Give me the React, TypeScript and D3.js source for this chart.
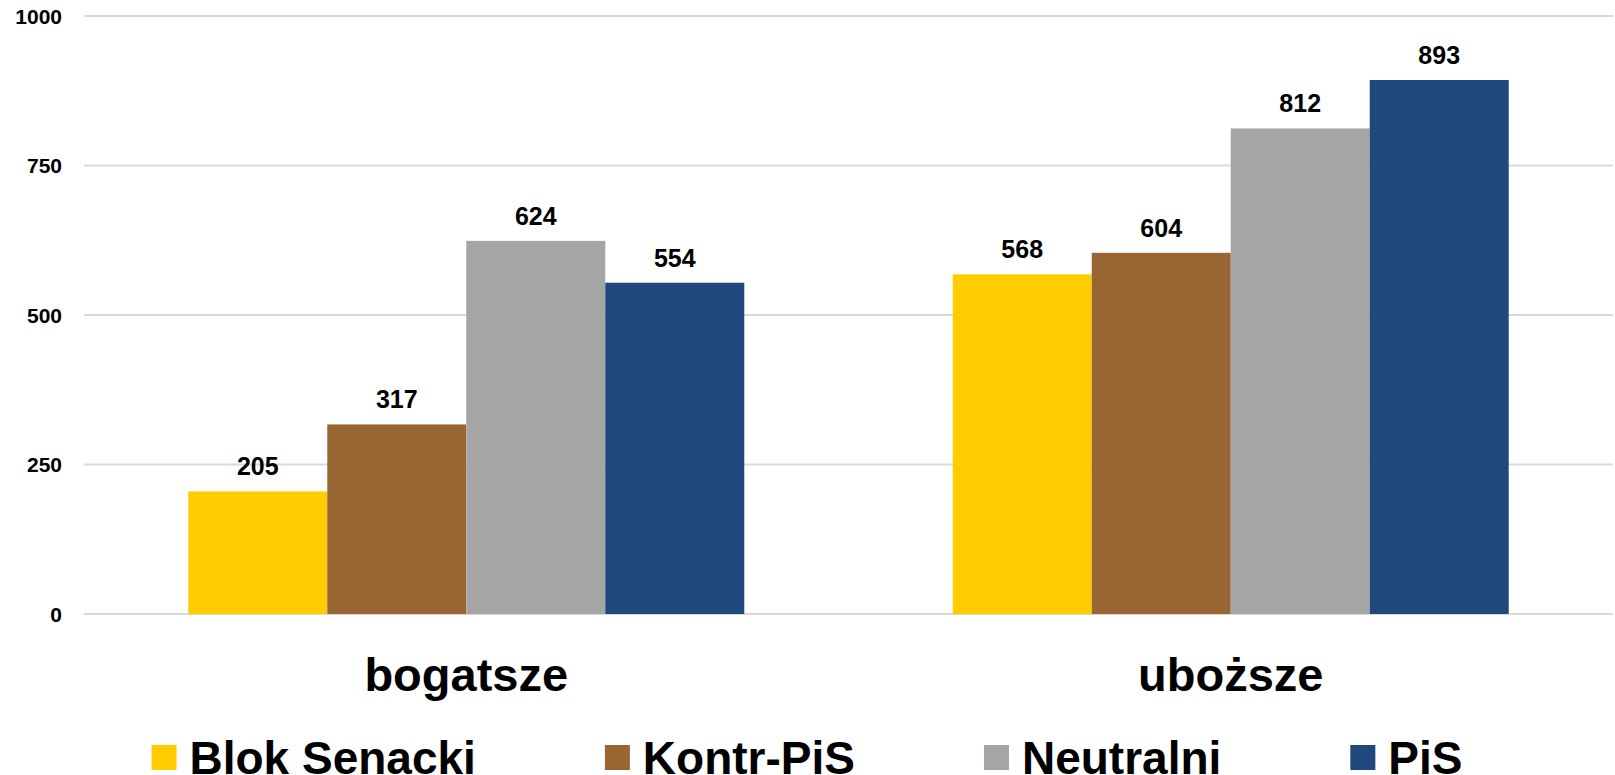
import React, { useMemo } from "react";
import * as d3 from "d3";

const categories = ["bogatsze", "uboższe"];
const seriesNames = ["Blok Senacki", "Kontr-PiS", "Neutralni", "PiS"];
const seriesColors = ["#FFCC00", "#996633", "#A5A5A5", "#1F497D"];
const blokSenacki = [205, 568];
const kontrPiS = [317, 604];
const neutralni = [624, 812];
const pis = [554, 893];
const seriesValues = [blokSenacki, kontrPiS, neutralni, pis];
const yTicks = [0, 250, 500, 750, 1000];

const W = 1615;
const H = 775;
const FONT = "'Liberation Sans', Arial, sans-serif";

function measure(text: string, size: number): number {
  const c = document.createElement("canvas");
  const ctx = c.getContext("2d");
  if (!ctx) return text.length * size * 0.55;
  ctx.font = `bold ${size}px 'Liberation Sans', Arial, sans-serif`;
  return ctx.measureText(text).width;
}

export default function App() {
  const left = 84;
  const right = 1613;
  const top = 16;
  const bottom = 614;

  const y = d3.scaleLinear().domain([0, 1000]).range([bottom, top]);
  const x0 = d3
    .scaleBand<string>()
    .domain(categories)
    .range([left, right])
    .paddingInner(0.2727)
    .paddingOuter(0.1364);
  const x1 = d3
    .scaleBand<string>()
    .domain(seriesNames)
    .range([0, x0.bandwidth()])
    .padding(0);

  const legendSize = 46;
  const legend = useMemo(() => {
    const sq = 25;
    const gapAfterSq = 13;
    const gapBetween = 129;
    const widths = seriesNames.map((s) => measure(s, legendSize));
    const total =
      widths.reduce((a, b) => a + b, 0) +
      seriesNames.length * (sq + gapAfterSq) +
      (seriesNames.length - 1) * gapBetween;
    let cx = W / 2 - total / 2 - 0.5;
    return seriesNames.map((s, i) => {
      const item = { name: s, color: seriesColors[i], sqX: cx, textX: cx + sq + gapAfterSq };
      cx += sq + gapAfterSq + widths[i] + gapBetween;
      return item;
    });
  }, []);

  return (
    <svg
      width={W}
      height={H}
      viewBox={`0 0 ${W} ${H}`}
      style={{ position: "absolute", left: 0, top: 0, display: "block", background: "#fff" }}
      fontFamily={FONT}
      fontWeight="bold"
    >
      <rect x={0} y={0} width={W} height={H} fill="#fff" />
      {yTicks.map((t) => (
        <g key={t}>
          <line x1={left} x2={right} y1={y(t)} y2={y(t)} stroke="#D9D9D9" strokeWidth={2} />
          <text x={62} y={y(t)} dy="0.36em" textAnchor="end" fontSize={21} fill="#000">
            {t}
          </text>
        </g>
      ))}
      {categories.map((cat, ci) => (
        <g key={cat} transform={`translate(${x0(cat)},0)`}>
          {seriesNames.map((s, si) => {
            const v = seriesValues[si][ci];
            const bx = x1(s) as number;
            return (
              <g key={s}>
                <rect
                  x={bx}
                  y={y(v)}
                  width={x1.bandwidth()}
                  height={y(0) - y(v)}
                  fill={seriesColors[si]}
                />
                <text
                  x={bx + x1.bandwidth() / 2}
                  y={y(v) - 16}
                  textAnchor="middle"
                  fontSize={25}
                  fill="#000"
                >
                  {v}
                </text>
              </g>
            );
          })}
          <text
            x={x0.bandwidth() / 2}
            y={691}
            textAnchor="middle"
            fontSize={47}
            fill="#000"
          >
            {cat}
          </text>
        </g>
      ))}
      {legend.map((it) => (
        <g key={it.name}>
          <rect x={it.sqX} y={745} width={25} height={25} fill={it.color} />
          <text x={it.textX} y={774} fontSize={legendSize} fill="#000">
            {it.name}
          </text>
        </g>
      ))}
    </svg>
  );
}
